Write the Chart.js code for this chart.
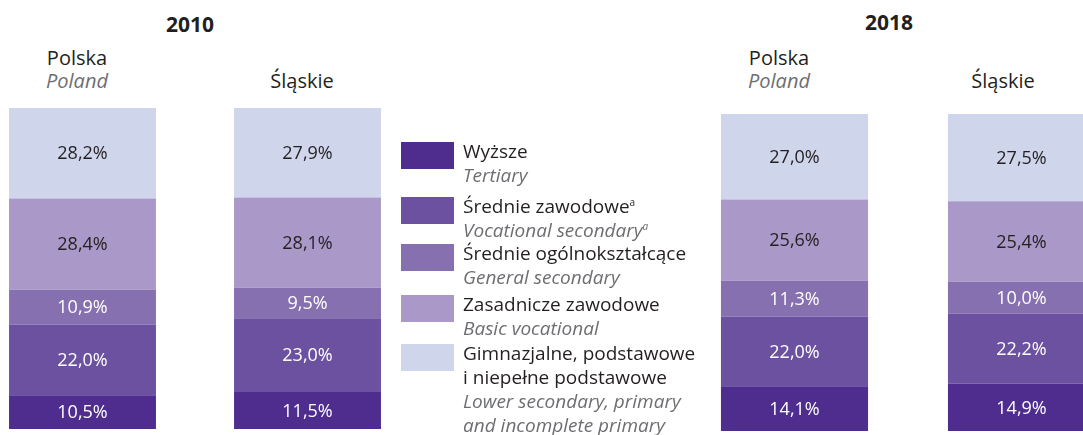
<!DOCTYPE html>
<html>
<head>
<meta charset="utf-8">
<script src="https://cdn.jsdelivr.net/npm/chart.js@4.4.0/dist/chart.umd.min.js"></script>
<style>
  body { margin: 0; width: 1083px; height: 435px; overflow: hidden; position: relative; background: #fff; font-family: "Open Sans", sans-serif; }
  .t { position: absolute; white-space: nowrap; color: #231f20; }
  .year { font-weight: bold; font-size: 21px; }
  .cat { font-size: 20px; text-align: center; line-height: 23px; }
  .cat i { color: #6d6e71; }
  canvas { position: absolute; }
  .lg-box { position: absolute; left: 401px; width: 53px; height: 27px; }
  .lg-txt { position: absolute; left: 463px; font-size: 19px; line-height: 24px; color: #231f20; white-space: nowrap; }
  .lg-txt i { color: #6d6e71; }
  sup { font-size: 10px; vertical-align: 7px; line-height: 0; }
</style>
</head>
<body>
<div class="t year" style="left:166px; top:10px;">2010</div>
<div class="t year" style="left:865px; top:8px;">2018</div>

<div class="t cat" style="left:17px; width:120px; top:46px;">Polska<br><i>Poland</i></div>
<div class="t cat" style="left:242px; width:120px; top:69px;">Śląskie</div>
<div class="t cat" style="left:719px; width:120px; top:46px;">Polska<br><i>Poland</i></div>
<div class="t cat" style="left:943px; width:120px; top:69px;">Śląskie</div>

<canvas id="c2010" width="450" height="321" style="left:-30px; top:108px;"></canvas>
<canvas id="c2018" width="454" height="317" style="left:681px; top:114px;"></canvas>

<div id="legend"></div>

<script>
// kolejność od dołu słupka do góry
const seriesPl = ["Wyższe", "Średnie zawodowe", "Średnie ogólnokształcące", "Zasadnicze zawodowe", "Gimnazjalne, podstawowe<br>i niepełne podstawowe"]
const seriesEn = ["Tertiary", "Vocational secondary", "General secondary", "Basic vocational", "Lower secondary, primary<br>and incomplete primary"]
const footnote = [false, true, false, false, false]

const categories = ["Polska", "Śląskie"]

// [Polska, Śląskie]
const wyzsze2010 = [10.5, 11.5]
const srZawodowe2010 = [22.0, 23.0]
const srOgolne2010 = [10.9, 9.5]
const zasadnicze2010 = [28.4, 28.1]
const gimnazjalne2010 = [28.2, 27.9]

const wyzsze2018 = [14.1, 14.9]
const srZawodowe2018 = [22.0, 22.2]
const srOgolne2018 = [11.3, 10.0]
const zasadnicze2018 = [25.6, 25.4]
const gimnazjalne2018 = [27.0, 27.5]

const colors = ["#4f2d8f", "#6b51a0", "#8770b0", "#a998c8", "#cfd5eb"]
const labelColors = ["#ffffff", "#ffffff", "#ffffff", "#231f20", "#231f20"]

// etykiety wartości w środku segmentów
const valueLabels = {
    id: "valueLabels",
    afterDatasetsDraw(chart){
        const ctx = chart.ctx
        ctx.save()
        ctx.font = "18px 'Open Sans'"
        ctx.textAlign = "center"
        ctx.textBaseline = "middle"
        chart.data.datasets.forEach((ds, i) => {
            chart.getDatasetMeta(i).data.forEach((bar, j) => {
                const txt = ds.data[j].toFixed(1).replace(".", ",") + "%"
                ctx.fillStyle = labelColors[i]
                ctx.fillText(txt, bar.x, (bar.y + bar.base) / 2 + 1)
            })
        })
        ctx.restore()
    }
}

function makeChart(id, rows, barPct){
    new Chart(document.getElementById(id), {
        type: "bar",
        data: {
            labels: categories,
            datasets: rows.map((r, i) => ({
                label: seriesPl[i],
                data: r,
                backgroundColor: colors[i],
                borderWidth: 0,
                barPercentage: barPct,
                categoryPercentage: 1
            }))
        },
        options: {
            responsive: false,
            animation: false,
            layout: { padding: 0 },
            plugins: { legend: { display: false }, tooltip: { enabled: false } },
            scales: {
                x: { stacked: true, display: false },
                y: { stacked: true, display: false, min: 0, max: 100 }
            }
        },
        plugins: [valueLabels]
    })
}

makeChart("c2010", [wyzsze2010, srZawodowe2010, srOgolne2010, zasadnicze2010, gimnazjalne2010], 0.653)
makeChart("c2018", [wyzsze2018, srZawodowe2018, srOgolne2018, zasadnicze2018, gimnazjalne2018], 0.648)

// legenda po środku (odwrotna kolejność: od Wyższe w dół)
const boxTops = [142, 197, 244, 295, 344]
const legend = document.getElementById("legend")
seriesPl.forEach((name, i) => {
    const box = document.createElement("div")
    box.className = "lg-box"
    box.style.top = boxTops[i] + "px"
    box.style.background = colors[i]
    legend.appendChild(box)

    const txt = document.createElement("div")
    txt.className = "lg-txt"
    txt.style.top = (boxTops[i] - 3) + "px"
    const sup = footnote[i] ? "<sup>a</sup>" : ""
    txt.innerHTML = name + sup + "<br><i>" + seriesEn[i] + sup + "</i>"
    legend.appendChild(txt)
})
</script>
</body>
</html>
